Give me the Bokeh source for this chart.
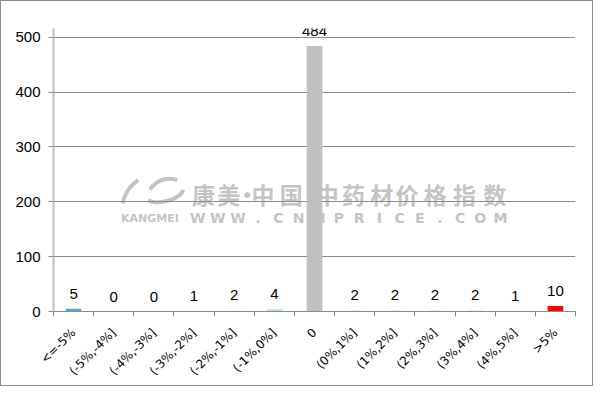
from bokeh.plotting import figure
from bokeh.models import Range1d, FixedTicker, ColumnDataSource, LabelSet
from bokeh.embed import file_html
from bokeh.resources import INLINE
from bokeh.core.properties import value
import numpy as np

categories = ["<=-5%", "(-5%,-4%]", "(-4%,-3%]", "(-3%,-2%]", "(-2%,-1%]", "(-1%,0%]",
              "0", "(0%,1%]", "(1%,2%]", "(2%,3%]", "(3%,4%]", "(4%,5%]", ">5%"]
counts = [5, 0, 0, 1, 2, 4, 484, 2, 2, 2, 2, 1, 10]
bar_colors = ["#4BACC6", "#4BACC6", "#4BACC6", "#92CDDC", "#DAEEF3", "#B7DEE8",
              "#C0C0C0", "#F2DCDB", "#F2DCDB", "#F2DCDB", "#F2CFCF", "#E6B9B8", "#FF0000"]
y_ticks = [0, 100, 200, 300, 400, 500]

xs = list(range(len(categories)))
src = ColumnDataSource(dict(x=xs, top=counts, color=bar_colors,
                            label=[str(c) for c in counts]))

p = figure(width=593, height=386, output_backend="svg", toolbar_location=None,
           x_range=Range1d(-0.5, len(categories) - 0.5), y_range=Range1d(0, 516),
           min_border_left=52, min_border_right=19, min_border_top=27, min_border_bottom=76)
p.styles = {"border": "1px solid #8c8c8c"}
p.outline_line_color = None
p.background_fill_color = "white"
p.border_fill_color = "white"

# watermark (positions given in reference-picture pixels, mapped to data units)
wm_cn = list("康美·中国中药材价格指数")
wm_cn_px = [207, 233, 252, 268, 297, 334, 361, 390, 416, 445, 475, 506]
px_per_cat = 536 / len(categories)
px_per_unit = 286 / 500
def dx(px):
    return (px - 53) / px_per_cat - 0.5
def dy(py):
    return (323 - py) / px_per_unit
wm1 = p.text(x=[dx(v) for v in wm_cn_px], y=[dy(200)] * len(wm_cn), text=wm_cn,
             text_font=value("Noto Sans CJK SC"), text_font_style="bold",
             text_font_size="23px", text_color="#C4C4C4", text_align="center",
             text_baseline="middle")
wm1.level = "image"
wm_en = list("WWW.CNMPRICE.COM")
wm_en_px = np.linspace(201, 512, len(wm_en))
wm2 = p.text(x=[dx(v) for v in wm_en_px], y=[dy(226)] * len(wm_en), text=wm_en,
             text_font=value("DejaVu Sans"), text_font_style="bold",
             text_font_size="14px", text_color="#C4C4C4", text_align="center",
             text_baseline="middle")
wm2.level = "image"
wm3 = p.text(x=[dx(152)], y=[dy(226)], text=["KANGMEI"],
             text_font=value("DejaVu Sans"), text_font_style="bold",
             text_font_size="11px", text_color="#C4C4C4", text_align="center",
             text_baseline="middle")
wm3.level = "image"
# rough swoosh of the logo
sw = p.bezier(x0=[dx(124), dx(150)], y0=[dy(210), dy(207)],
              x1=[dx(140), dx(186)], y1=[dy(186), dy(196)],
              cx0=[dx(128), dx(160)], cy0=[dy(195), dy(213)],
              cx1=[dx(134), dx(185)], cy1=[dy(190), dy(205)],
              line_color="#C4C4C4", line_width=4)
sw.level = "image"
sw2 = p.bezier(x0=[dx(152)], y0=[dy(196)], x1=[dx(180)], y1=[dy(186)],
               cx0=[dx(160)], cy0=[dy(184)], cx1=[dx(172)], cy1=[dy(183)],
               line_color="#C4C4C4", line_width=4)
sw2.level = "image"

p.vbar(x="x", top="top", width=0.39, source=src, fill_color="color", line_color=None)
labels = LabelSet(x="x", y="top", text="label", source=src, text_align="center",
                  text_baseline="bottom", y_offset=10, text_font=value("Liberation Sans"),
                  text_font_size=value("15px"), text_color=value("black"))
p.add_layout(labels)

p.xgrid.visible = False
p.ygrid.grid_line_color = "#8c8c8c"
p.ygrid.ticker = FixedTicker(ticks=y_ticks)

p.yaxis.ticker = FixedTicker(ticks=y_ticks)
p.yaxis.axis_line_color = "#bfbfbf"
p.yaxis.axis_line_width = 2
p.yaxis.major_tick_line_color = "#8c8c8c"
p.yaxis.major_tick_in = 0
p.yaxis.major_tick_out = 5
p.yaxis.minor_tick_line_color = None
p.yaxis.major_label_standoff = 8
p.yaxis.major_label_text_font = "Liberation Sans"
p.yaxis.major_label_text_font_size = "15px"
p.yaxis.major_label_text_color = "black"

p.xaxis.ticker = FixedTicker(ticks=xs, minor_ticks=[i - 0.5 for i in range(len(categories) + 1)])
p.xaxis.major_label_overrides = {i: c for i, c in enumerate(categories)}
p.xaxis.major_label_orientation = np.pi / 4
p.xaxis.axis_line_color = "#8c8c8c"
p.xaxis.major_tick_line_color = None
p.xaxis.major_tick_in = 0
p.xaxis.major_tick_out = 0
p.xaxis.minor_tick_line_color = "#8c8c8c"
p.xaxis.minor_tick_in = 0
p.xaxis.minor_tick_out = 5
p.xaxis.major_label_standoff = 14
p.xaxis.major_label_text_font = "DejaVu Sans"
p.xaxis.major_label_text_font_size = "12px"
p.xaxis.major_label_text_color = "black"

open("out.html", "w").write(file_html(p, INLINE))
